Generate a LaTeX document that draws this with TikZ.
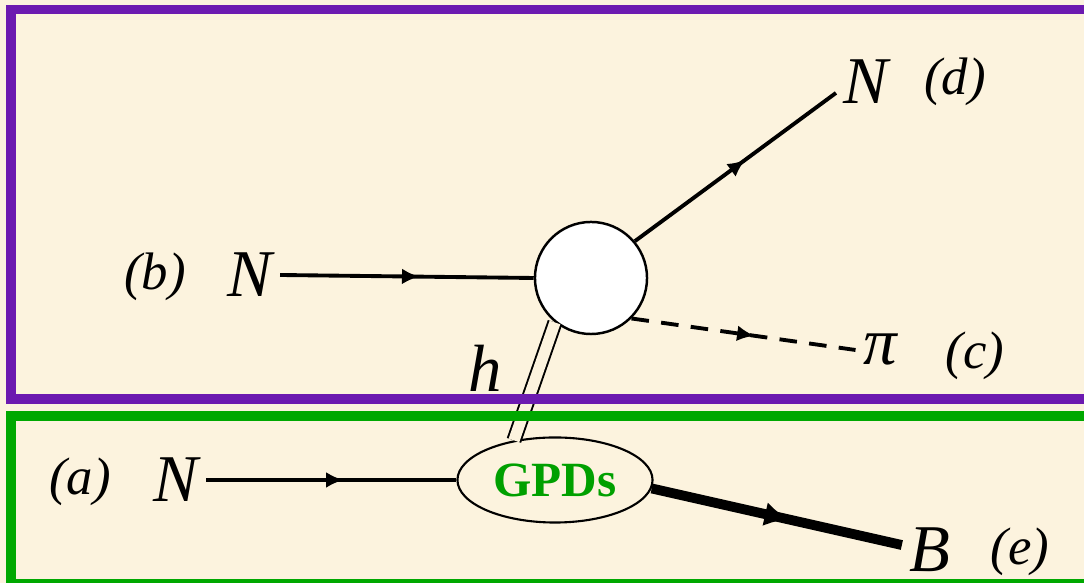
\documentclass[tikz,border=0pt]{standalone}
\usepackage{fontspec}
\setmainfont{Liberation Serif}
\usetikzlibrary{positioning, arrows.meta, decorations.markings, shapes.geometric}
\definecolor{parchment}{RGB}{252,243,222}
\definecolor{boxpurple}{RGB}{108,26,176}
\definecolor{boxgreen}{RGB}{0,168,0}
\definecolor{gpdgreen}{RGB}{0,160,0}

\begin{document}
\begin{tikzpicture}[x=0.01cm, y=-0.01cm,
    midarrow/.style={postaction={decorate, decoration={markings,
        mark=at position 0.55 with {\arrow{Latex[length=5pt,width=4.5pt]}}}}},
    fermion/.style={line width=1.1pt, midarrow},
    heavy/.style={line width=2.8pt, postaction={decorate, decoration={markings,
        mark=at position 0.55 with {\arrow{Latex[length=7pt,width=7pt]}}}}},
    big/.style={font=\fontsize{19}{22}\selectfont\itshape, inner sep=2pt},
    tag/.style={font=\fontsize{15}{18}\selectfont\itshape}]
\fill[parchment] (0,0) rectangle (1084,583);
\useasboundingbox (0,0) rectangle (1084,583);
% blobs
\node[circle, draw, fill=white, line width=0.7pt, minimum size=1.12cm] (blob) at (591,278) {};
\node[ellipse, draw, line width=0.6pt, inner sep=0pt, minimum width=1.95cm, minimum height=0.85cm,
    text=gpdgreen, font=\fontsize{14}{16}\selectfont\bfseries] (gpd) at (555,480) {GPDs};
% particles
\node[big] (Nb) at (250,275) {N};
\node[tag] (tb) at (155,277) {(b)};
\node[big] (Na) at (176,480) {N};
\node[tag] (ta) at (80,482) {(a)};
\node[big] (Nd) at (866,82) {N};
\node[tag] (td) at (955,82) {(d)};
\node[big] (pi) at (880,350) {π};
\node[tag] (tc) at (975,356) {(c)};
\node[big] (B) at (930,550) {B};
\node[tag] (te) at (1020,552) {(e)};
\node[big] (h) at (485,368) {h};
% exchange
\draw[double=parchment, double distance=3.2pt, line width=0.55pt] (blob.231) -- (gpd.136);
% frames
\draw[boxpurple, line width=2.6pt] (11,9.5) rectangle (1100,399);
\draw[boxgreen, line width=2.6pt] (11,416) rectangle (1100,584);
% lines
\draw[fermion] (Nb.east) -- (blob.west);
\draw[fermion] (Na.east) -- (gpd.west);
\draw[fermion] (blob.40) -- (Nd.200);
\draw[fermion, dash pattern=on 5pt off 3.5pt] (blob.-45) -- (pi.west);
\draw[heavy] (gpd.-5) -- (B.170);
\end{tikzpicture}
\end{document}
